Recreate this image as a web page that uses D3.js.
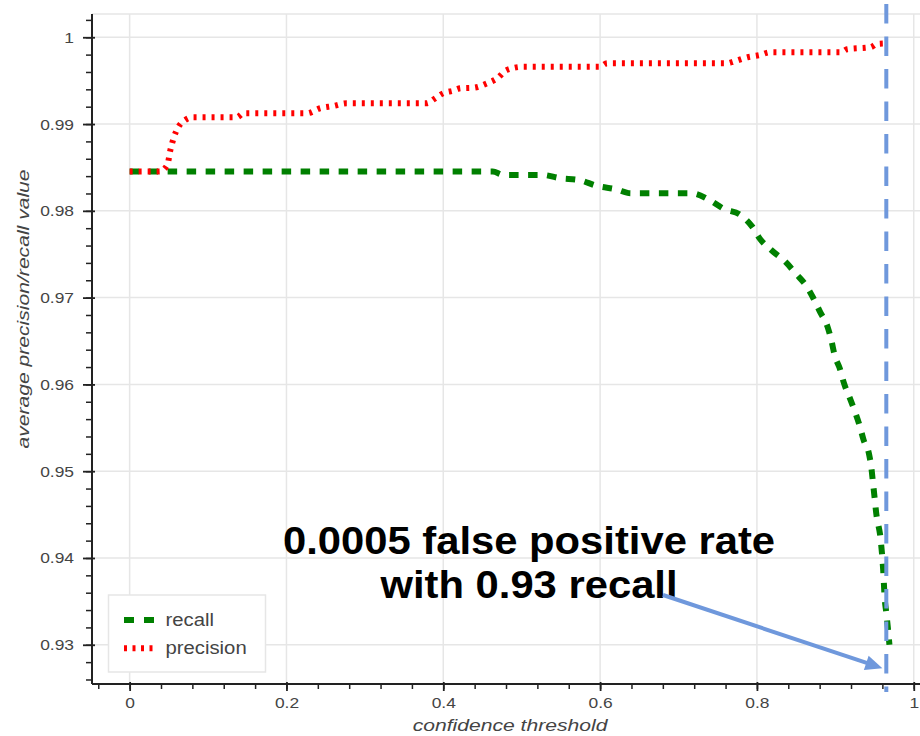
<!DOCTYPE html>
<html>
<head>
<meta charset="utf-8">
<script src="https://cdn.jsdelivr.net/npm/d3@7"></script>
<style>
  html, body { margin: 0; padding: 0; background: #fff; }
  svg { display: block; font-family: "Liberation Sans", Arial, Helvetica, sans-serif; }
</style>
</head>
<body>
<svg id="chart" width="920" height="736"></svg>
<script>
// Average precision / recall against the detector's confidence threshold
const recallThreshold = [0, 0.463, 0.477, 0.526, 0.549, 0.573, 0.596, 0.620, 0.639, 0.717, 0.739, 0.758, 0.779, 0.794, 0.804, 0.819, 0.836, 0.850, 0.863, 0.872, 0.881, 0.890, 0.895, 0.899, 0.906, 0.911, 0.918, 0.925, 0.931, 0.936, 0.943, 0.946, 0.948, 0.950, 0.952, 0.958, 0.961, 0.963, 0.965, 0.967, 0.969];
const recallValue = [0.98452, 0.98452, 0.98414, 0.98414, 0.98376, 0.98356, 0.98287, 0.98249, 0.98203, 0.98203, 0.98126, 0.98022, 0.97953, 0.97818, 0.97676, 0.97542, 0.97415, 0.97273, 0.97135, 0.96993, 0.96827, 0.96666, 0.96505, 0.96340, 0.96175, 0.96014, 0.95853, 0.95687, 0.95525, 0.95361, 0.95196, 0.95035, 0.94869, 0.94700, 0.94527, 0.94197, 0.93863, 0.93529, 0.93368, 0.93195, 0.93];

const precisionThreshold = [0, 0.038, 0.048, 0.052, 0.056, 0.0625, 0.071, 0.080, 0.137, 0.145, 0.226, 0.243, 0.260, 0.277, 0.379, 0.388, 0.400, 0.413, 0.422, 0.439, 0.456, 0.469, 0.481, 0.503, 0.600, 0.609, 0.762, 0.770, 0.788, 0.804, 0.817, 0.907, 0.915, 0.945, 0.953, 0.968];
const precisionValue = [0.98452, 0.98452, 0.98529, 0.98702, 0.98836, 0.98970, 0.99047, 0.99078, 0.99078, 0.99124, 0.99124, 0.99182, 0.99209, 0.99240, 0.99240, 0.99286, 0.99355, 0.99385, 0.99412, 0.99419, 0.99470, 0.99528, 0.99623, 0.99661, 0.99661, 0.99700, 0.99700, 0.99719, 0.99770, 0.99796, 0.99827, 0.99827, 0.99862, 0.99885, 0.99923, 0.99929];

const xTickValues = [0, 0.2, 0.4, 0.6, 0.8, 1];
const xTickLabels = ["0", "0.2", "0.4", "0.6", "0.8", "1"];
const yTickValues = [0.93, 0.94, 0.95, 0.96, 0.97, 0.98, 0.99, 1];
const yTickLabels = ["0.93", "0.94", "0.95", "0.96", "0.97", "0.98", "0.99", "1"];

const seriesNames = ["recall", "precision"];
const cutoffThreshold = 0.965;          // operating point marked with the vertical line
const calloutTarget = [0.96, 0.9273];   // where the callout arrow points
const calloutLines = ["0.0005 false positive rate", "with 0.93 recall"];

// ---- layout ----
const svg = d3.select("#chart");
const frame = { left: 92, right: 931, top: 14, bottom: 684 };

const x = d3.scaleLinear().domain([-0.048, 1.022]).range([frame.left, frame.right]);
const y = d3.scaleLinear().domain([0.92548, 1.00268]).range([frame.bottom, frame.top]);

const gridColor = "#e6e6e6";
const textColor = "#444";
const stretch = 1.16;    // horizontal widening of label glyphs

// grid
const grid = svg.append("g");
grid.selectAll("line.gx").data(xTickValues).join("line")
  .attr("x1", d => x(d)).attr("x2", d => x(d))
  .attr("y1", frame.top).attr("y2", frame.bottom)
  .attr("stroke", gridColor).attr("stroke-width", 1.5);
grid.selectAll("line.gy").data(yTickValues).join("line")
  .attr("x1", frame.left).attr("x2", frame.right)
  .attr("y1", d => y(d)).attr("y2", d => y(d))
  .attr("stroke", gridColor).attr("stroke-width", 1.5);
grid.append("line")
  .attr("x1", frame.left).attr("x2", frame.right)
  .attr("y1", frame.top).attr("y2", frame.top)
  .attr("stroke", gridColor).attr("stroke-width", 1.5);

// lines
const line = d3.line().x(d => x(d[0])).y(d => y(d[1])).curve(d3.curveMonotoneX);
const recallPts = recallThreshold.map((t, i) => [t, recallValue[i]]);
const precisionPts = precisionThreshold.map((t, i) => [t, precisionValue[i]]);

const plot = svg.append("g");
plot.append("path").datum(recallPts)
  .attr("d", line).attr("fill", "none")
  .attr("stroke", "#008000").attr("stroke-width", 6)
  .attr("stroke-dasharray", "9.5,9.5");
plot.append("path").datum(precisionPts)
  .attr("d", line).attr("fill", "none")
  .attr("stroke", "#ff0000").attr("stroke-width", 6)
  .attr("stroke-dasharray", "3,6");

// axes
function styleLabels(sel, size) {
  sel.attr("fill", textColor).attr("font-size", size)
    .attr("font-family", "Liberation Sans, Arial, sans-serif");
}

const xMinor = d3.range(-0.04, 1.0001, 0.04);
const yMinor = d3.range(0.926, 1.0021, 0.002);

const xAxisMinor = svg.append("g").attr("transform", `translate(0,${frame.bottom})`)
  .call(d3.axisBottom(x).tickValues(xMinor).tickSize(5).tickFormat(""));
xAxisMinor.select(".domain").remove();
xAxisMinor.selectAll("line").attr("stroke", "#222").attr("stroke-width", 1.5);

const xAxis = svg.append("g").attr("transform", `translate(0,${frame.bottom})`)
  .call(d3.axisBottom(x).tickValues(xTickValues).tickSize(7)
    .tickFormat((d, i) => xTickLabels[i]).tickSizeOuter(0));
xAxis.select(".domain").attr("d", `M${frame.left},0H${frame.right}`)
  .attr("stroke", "#222").attr("stroke-width", 2);
xAxis.selectAll(".tick line").attr("y1", -2).attr("stroke", "#222").attr("stroke-width", 1.8);
xAxis.selectAll(".tick text").attr("y", 0).attr("dy", 0)
  .attr("transform", `translate(0,24) scale(${stretch},1)`)
  .call(styleLabels, 15);

const yAxisMinor = svg.append("g").attr("transform", `translate(${frame.left},0)`)
  .call(d3.axisLeft(y).tickValues(yMinor).tickSize(6).tickFormat(""));
yAxisMinor.select(".domain").remove();
yAxisMinor.selectAll("line").attr("stroke", "#222").attr("stroke-width", 1.5);

const yAxis = svg.append("g").attr("transform", `translate(${frame.left},0)`)
  .call(d3.axisLeft(y).tickValues(yTickValues).tickSize(9)
    .tickFormat((d, i) => yTickLabels[i]).tickSizeOuter(0));
yAxis.select(".domain").attr("d", `M0,${frame.top}V${frame.bottom}`)
  .attr("stroke", "#222").attr("stroke-width", 2);
yAxis.selectAll(".tick line").attr("x1", 3).attr("stroke", "#222").attr("stroke-width", 1.8);
yAxis.selectAll(".tick text").attr("x", 0).attr("dy", 0)
  .attr("transform", `translate(-18,5) scale(${stretch},1)`)
  .call(styleLabels, 15);
svg.selectAll(".tick text").attr("font-family", "Liberation Sans, Arial, sans-serif");
svg.selectAll("g").filter(function () { return this.hasAttribute("font-family") && !this.closest("text"); })
  .attr("font-family", null).attr("font-size", null);

// axis titles
svg.append("text")
  .attr("transform", `translate(510,731) scale(1.32,1)`)
  .attr("text-anchor", "middle").attr("font-style", "italic")
  .attr("font-size", 16).attr("fill", textColor)
  .text("confidence threshold");
svg.append("text")
  .attr("transform", `translate(28.5,309) rotate(-90) scale(1.32,1)`)
  .attr("text-anchor", "middle").attr("font-style", "italic")
  .attr("font-size", 16).attr("fill", textColor)
  .text("average precision/recall value");

// legend
const legend = svg.append("g").attr("transform", "translate(108.5,595)");
legend.append("rect").attr("width", 157).attr("height", 77)
  .attr("fill", "#fff").attr("stroke", "#e6e6e6").attr("stroke-width", 1.5);
const legendStyles = [
  { color: "#008000", dash: "10,10" },
  { color: "#ff0000", dash: "3,5.5" }
];
seriesNames.forEach((name, i) => {
  const cy = 25 + i * 28.3;
  legend.append("line").attr("x1", 15.5).attr("x2", 45.5).attr("y1", cy).attr("y2", cy)
    .attr("stroke", legendStyles[i].color).attr("stroke-width", 6)
    .attr("stroke-dasharray", legendStyles[i].dash);
  legend.append("text")
    .attr("transform", `translate(57,${cy + 5.5}) scale(${stretch},1)`)
    .attr("font-size", 17.5).attr("fill", textColor).text(name);
});

// operating-point marker
const blue = "#6f98dc";
svg.append("line")
  .attr("x1", x(cutoffThreshold)).attr("x2", x(cutoffThreshold))
  .attr("y1", 4).attr("y2", 692)
  .attr("stroke", blue).attr("stroke-width", 4)
  .attr("stroke-dasharray", "19.5,13");

// callout
const callout = svg.append("g");
calloutLines.forEach((t, i) => {
  callout.append("text")
    .attr("transform", `translate(529,${554.3 + i * 44}) scale(1.085,1)`)
    .attr("text-anchor", "middle").attr("font-weight", "bold")
    .attr("font-size", 38.5).attr("fill", "#000").text(t);
});

const ax0 = 663, ay0 = 595;
const ax1 = x(calloutTarget[0]), ay1 = y(calloutTarget[1]);
const ang = Math.atan2(ay1 - ay0, ax1 - ax0);
const headLen = 17, headHalf = 7.5;
const bx = ax1 - headLen * Math.cos(ang), by = ay1 - headLen * Math.sin(ang);
callout.append("line")
  .attr("x1", ax0).attr("y1", ay0).attr("x2", bx + 2 * Math.cos(ang)).attr("y2", by + 2 * Math.sin(ang))
  .attr("stroke", blue).attr("stroke-width", 4);
callout.append("path")
  .attr("d", `M${ax1},${ay1}L${bx - headHalf * Math.sin(ang)},${by + headHalf * Math.cos(ang)}L${bx + headHalf * Math.sin(ang)},${by - headHalf * Math.cos(ang)}Z`)
  .attr("fill", blue);
</script>
</body>
</html>
